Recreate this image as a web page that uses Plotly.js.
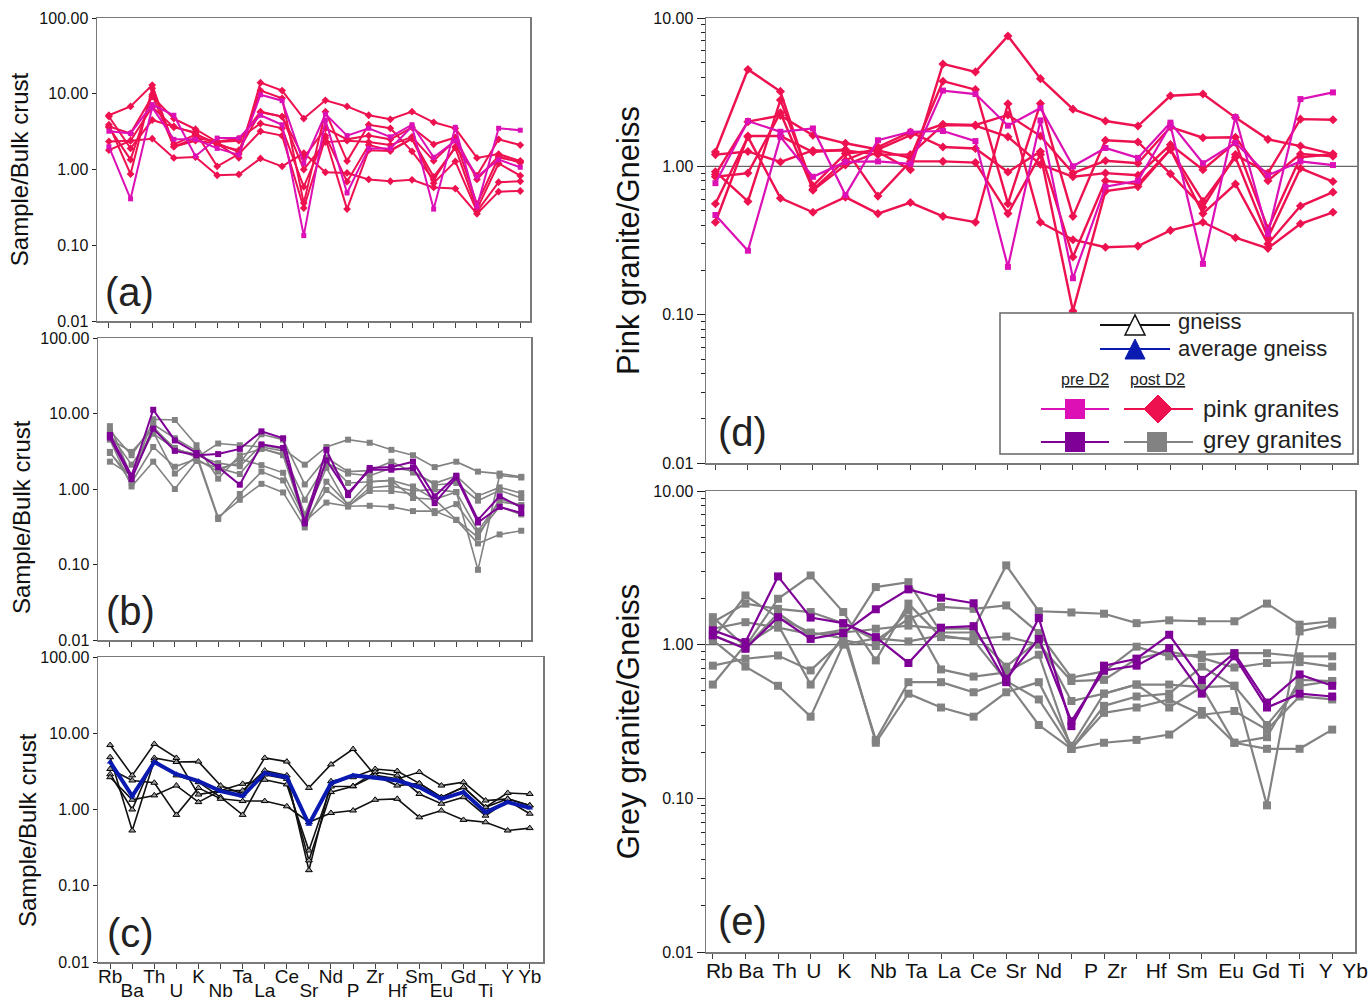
<!DOCTYPE html>
<html><head><meta charset="utf-8">
<script src="https://cdn.plot.ly/plotly-3.0.1.min.js"></script>
<style>body{margin:0;background:#fff}#chart{width:1370px;height:1004px}</style>
</head><body><div id="chart"></div>
<script>
// ---------- categories / tick labels ----------
const elements = ["Rb","Ba","Th","U","K","Nb","Ta","La","Ce","Sr","Nd","P","Zr","Hf","Sm","Eu","Gd","Ti","Y","Yb"];
const cTopLabels = ["Rb","Th","K","Ta","Ce","Nd","Zr","Sm","Gd","Y","Yb"];
const cBottomLabels = ["Ba","U","Nb","La","Sr","P","Hf","Eu","Ti"];
const yTicks = [0.01, 0.1, 1, 10, 100];

// ---------- (a) pink granites / bulk crust ----------
const pinkPreA = [
  [3.2,3.0,7.2,5.2,1.5,2.6,2.6,5.2,3.9,0.134,4.5,0.49,1.9,1.9,3.7,0.30,3.6,0.32,3.5,3.3],
  [2.0,0.41,6.6,2.5,2.5,1.9,1.56,9.7,8.1,1.2,5.4,2.8,3.5,2.7,3.9,1.45,2.4,0.80,1.35,1.07]
];
const pinkPostA = [
  [5.2,6.8,13.0,2.0,2.4,2.2,1.43,14.0,11.0,4.7,8.2,6.8,5.2,4.6,5.8,4.2,3.5,1.42,1.6,1.3],
  [3.9,0.87,11.8,2.15,2.9,2.2,1.7,11.0,8.7,0.36,5.8,1.29,3.9,3.5,1.74,0.73,2.0,0.83,2.5,2.1],
  [3.7,3.0,9.2,4.7,3.4,2.3,2.4,5.8,5.0,1.42,3.5,2.5,2.8,2.5,3.6,2.15,2.65,0.74,1.5,1.23],
  [5.0,1.9,4.5,3.7,3.0,2.1,1.8,5.7,5.0,1.0,2.3,2.4,2.3,2.1,2.7,1.3,2.45,0.35,1.44,1.27],
  [3.6,1.35,9.7,2.0,2.6,2.35,2.55,4.05,3.5,0.59,2.8,0.69,2.1,1.8,2.55,0.8,1.94,0.30,1.2,0.83],
  [1.8,2.4,6.7,3.6,3.1,1.1,1.6,3.2,2.8,0.31,2.6,0.30,1.8,1.75,2.55,0.66,1.28,0.28,0.68,0.70],
  [2.35,2.4,2.55,1.42,1.46,0.84,0.86,1.4,1.1,1.65,0.92,0.9,0.74,0.7,0.73,0.58,0.56,0.26,0.51,0.52]
];

// ---------- (b) grey granites / bulk crust ----------
const greyPreB = [
  [5.2,1.5,11.2,4.4,3.0,1.95,1.14,3.9,3.5,0.37,3.3,0.83,1.9,1.95,2.3,0.8,1.5,0.39,0.8,0.57],
  [4.8,1.35,6.3,3.2,2.8,2.9,3.4,5.8,4.7,0.35,2.4,0.89,1.8,1.8,1.9,0.65,1.42,0.36,0.58,0.48]
];
const greyPostB = [
  [5.3,2.1,5.4,3.4,2.8,2.2,2.0,3.8,3.4,2.1,3.6,4.5,4.1,3.3,2.8,1.95,2.3,1.7,1.6,1.45],
  [5.9,2.8,7.2,4.7,3.2,1.86,2.2,5.3,4.5,1.15,2.6,1.7,1.75,2.3,1.65,1.19,1.49,0.81,1.05,0.88],
  [6.8,1.46,8.4,8.2,3.8,1.37,2.8,3.4,2.9,0.72,2.2,1.6,1.5,1.9,1.75,1.13,1.2,0.70,0.96,0.76],
  [4.6,3.1,6.3,3.5,2.6,4.0,3.8,3.6,3.2,0.46,2.35,1.2,1.25,1.3,0.76,0.73,0.39,0.23,0.74,0.61],
  [3.1,1.22,3.6,1.97,2.5,1.7,2.5,2.07,1.64,0.42,1.9,0.59,1.04,1.1,0.94,0.99,0.91,0.28,0.68,0.61],
  [4.5,1.08,2.3,1.0,2.35,1.9,1.58,3.45,2.8,0.37,0.97,0.59,0.94,0.94,0.86,0.48,0.63,0.26,0.58,0.46],
  [2.3,1.5,5.7,1.6,2.7,0.40,0.86,1.7,1.3,0.37,0.66,0.59,0.6,0.58,0.51,0.51,0.39,0.19,0.25,0.28],
  [3.0,1.43,6.7,3.3,2.9,0.42,0.72,1.17,0.9,0.31,1.25,0.62,1.25,1.3,1.08,0.73,0.91,0.085,1.5,1.42]
];

// ---------- (c) gneiss / bulk crust ----------
const gneissC = [
  [2.9,1.0,4.75,4.2,4.25,2.06,1.6,4.75,4.25,1.92,3.9,6.2,2.8,2.52,3.1,2.06,2.28,1.31,1.38,1.13],
  [7.0,2.8,7.25,4.75,1.57,1.77,1.77,3.24,2.8,0.16,2.35,2.65,3.4,3.2,2.2,1.45,1.96,1.07,1.65,1.6],
  [4.85,0.53,4.4,2.8,2.28,1.45,0.85,2.87,2.52,0.215,1.69,2.02,3.1,2.8,1.6,1.19,1.45,0.83,1.31,0.88],
  [3.4,2.4,2.24,0.85,1.92,1.38,1.29,1.29,1.1,0.68,0.9,0.97,1.34,1.38,0.79,0.97,0.73,0.68,0.53,0.57],
  [2.65,1.34,1.53,2.06,1.25,1.77,2.17,2.45,2.13,0.29,2.0,2.02,2.8,2.06,2.2,1.45,1.96,1.07,1.38,1.13]
];
const avgGneissC = [4.2,1.5,4.2,2.9,2.35,1.74,1.5,3.0,2.65,0.64,2.2,2.8,2.6,2.4,1.96,1.38,1.69,0.92,1.25,1.05];

// ---------- (d) pink granite / gneiss ----------
const pinkPreD = [
  [0.77,2.02,1.71,1.80,0.64,1.5,1.71,1.73,1.48,0.21,2.04,0.176,0.73,0.80,1.9,0.22,2.15,0.35,2.84,3.15],
  [0.47,0.27,1.58,0.85,1.07,1.08,1.04,3.24,3.07,1.88,2.47,1.0,1.33,1.14,1.97,1.05,1.44,0.87,1.08,1.02]
];
const pinkPostD = [
  [1.25,4.5,3.2,0.69,1.02,1.25,0.95,4.9,4.33,7.57,3.9,2.43,2.02,1.87,2.99,3.07,2.13,1.52,1.37,1.21],
  [0.92,0.58,2.8,0.74,1.22,1.28,1.14,3.75,3.29,0.56,2.65,0.46,1.5,1.46,0.89,0.53,1.2,0.9,2.08,2.06],
  [0.88,2.0,2.2,1.62,1.43,1.3,1.62,1.92,1.9,2.22,1.6,0.9,1.09,1.05,1.84,1.56,1.57,0.8,1.21,1.17],
  [1.2,1.26,1.07,1.28,1.28,1.2,1.2,1.9,1.88,1.58,1.03,0.85,0.9,0.87,1.4,0.95,1.45,0.38,1.15,1.21],
  [0.85,0.9,2.3,0.7,1.1,1.35,1.7,1.35,1.32,0.915,1.26,0.245,0.8,0.76,1.3,0.58,1.15,0.33,0.97,0.79],
  [0.42,1.6,1.6,1.25,1.3,0.63,1.08,1.08,1.06,0.48,1.2,0.106,0.68,0.73,1.3,0.48,0.76,0.30,0.54,0.67],
  [0.56,1.58,0.61,0.49,0.62,0.48,0.57,0.46,0.42,2.64,0.42,0.32,0.285,0.29,0.37,0.42,0.33,0.28,0.41,0.49]
];

// ---------- (e) grey granite / gneiss ----------
const greyPreE = [
  [1.24,1.04,2.78,1.50,1.38,1.12,0.76,1.29,1.32,0.57,1.49,0.295,0.73,0.81,1.16,0.59,0.88,0.42,0.64,0.54],
  [1.15,0.94,1.51,1.09,1.19,1.70,2.29,2.02,1.86,0.60,1.09,0.318,0.68,0.73,0.95,0.48,0.84,0.39,0.48,0.46]
];
const greyPostE = [
  [1.27,1.40,1.29,1.17,1.2,1.27,1.33,1.27,1.27,3.28,1.65,1.62,1.59,1.38,1.44,1.42,1.42,1.85,1.35,1.42],
  [1.40,1.85,1.71,1.63,1.38,1.07,1.47,1.76,1.71,1.80,1.19,0.61,0.67,0.97,0.84,0.86,0.88,0.88,0.84,0.84],
  [1.51,0.97,1.99,2.82,1.63,0.79,1.85,1.12,1.09,1.13,1.0,0.58,0.59,0.81,0.90,0.82,0.71,0.76,0.77,0.72],
  [1.09,2.09,1.50,1.2,1.1,2.37,2.55,1.2,1.2,0.72,1.07,0.43,0.48,0.55,0.39,0.53,0.23,0.25,0.59,0.58],
  [0.73,0.81,0.85,0.68,1.07,0.98,1.67,0.69,0.62,0.66,0.86,0.21,0.40,0.46,0.48,0.72,0.54,0.30,0.54,0.58],
  [1.07,0.72,0.54,0.34,1.0,1.1,1.05,1.15,1.07,0.58,0.44,0.21,0.36,0.39,0.44,0.35,0.37,0.28,0.46,0.44],
  [0.55,1.0,1.35,0.55,1.15,0.24,0.57,0.57,0.49,0.58,0.30,0.21,0.23,0.24,0.26,0.37,0.23,0.21,0.21,0.28],
  [1.15,0.95,1.6,1.15,1.25,0.23,0.48,0.39,0.34,0.49,0.57,0.22,0.48,0.55,0.55,0.53,0.54,0.09,1.22,1.35]
];

// ---------- styling (not data) ----------
const eLabelPos = [0.2,1.17,2.2,3.1,4.03,5.23,6.24,7.25,8.3,9.3,10.3,11.6,12.4,13.6,14.7,15.9,16.97,17.9,18.8,19.7];
const C = {pinkPre:'#DC10B4', pinkPost:'#EE1150', greyPre:'#7E0096', greyPost:'#828282', gneiss:'#111111', avg:'#0A1AB0'};
const FONT = '"Liberation Sans", Arial, sans-serif';
const NARROW = '"Liberation Sans Narrow", "Liberation Sans", Arial, sans-serif';

function tr(ys, xa, ya, color, symbol, msize, lw, mline) {
  return {x: elements, y: ys, xaxis: xa, yaxis: ya, type: 'scatter', mode: 'lines+markers',
    line: {color: color, width: lw}, cliponaxis: false,
    marker: {symbol: symbol, size: msize, color: mline ? '#9a9a9a' : color, line: {width: mline ? 1 : 0, color: '#000'}},
    showlegend: false, hoverinfo: 'skip'};
}
const data = [];
pinkPostA.forEach(s => data.push(tr(s, 'x', 'y', C.pinkPost, 'diamond', 6, 2)));
pinkPreA.forEach(s => data.push(tr(s, 'x', 'y', C.pinkPre, 'square', 5, 2)));
greyPostB.forEach(s => data.push(tr(s, 'x2', 'y2', C.greyPost, 'square', 6, 1.6)));
greyPreB.forEach(s => data.push(tr(s, 'x2', 'y2', C.greyPre, 'square', 6, 2)));
gneissC.forEach(s => data.push(tr(s, 'x3', 'y3', C.gneiss, 'triangle-up', 6, 1.6, true)));
data.push(tr(avgGneissC, 'x3', 'y3', C.avg, 'triangle-up', 6, 4));
pinkPostD.forEach(s => data.push(tr(s, 'x4', 'y4', C.pinkPost, 'diamond', 7, 2.4)));
pinkPreD.forEach(s => data.push(tr(s, 'x4', 'y4', C.pinkPre, 'square', 6, 2.2)));
greyPostE.forEach(s => data.push(tr(s, 'x5', 'y5', C.greyPost, 'square', 8, 2.2)));
greyPreE.forEach(s => data.push(tr(s, 'x5', 'y5', C.greyPre, 'square', 8, 2.2)));
// empty carriers so that the label-only overlay axes get drawn
data.push({x: [], y: [], xaxis: 'x6', yaxis: 'y3', type: 'scatter', mode: 'markers', showlegend: false, hoverinfo: 'skip'});
data.push({x: [], y: [], xaxis: 'x7', yaxis: 'y5', type: 'scatter', mode: 'markers', showlegend: false, hoverinfo: 'skip'});

const W = 1370, H = 1004;
const px = v => v / W, py = v => 1 - v / H;
const boxCol = '#7a7a7a';

function xax(dom, anchor, range, extra) {
  return Object.assign({domain: dom, anchor: anchor, type: 'category', range: range,
    showline: true, mirror: true, linecolor: boxCol, linewidth: 1.5,
    ticks: 'outside', ticklen: 5, tickcolor: '#444', tickwidth: 1,
    showticklabels: false, showgrid: false, zeroline: false, fixedrange: true}, extra || {});
}
function yax(dom, anchor, range, title, tsize, tickfont, extra) {
  return Object.assign({domain: dom, anchor: anchor, type: 'log', range: range,
    tickvals: yTicks, tickformat: '.2f', ticks: 'outside', ticklen: 4, tickcolor: '#222',
    showline: true, mirror: true, linecolor: boxCol, linewidth: 1.5,
    showgrid: false, zeroline: false, fixedrange: true,
    tickfont: tickfont, ticklabelstandoff: 0,
    title: {text: title, font: {family: FONT, size: tsize, color: '#111'}, standoff: 4}}, extra || {});
}
const tfABC = {family: FONT, size: 16, color: '#111'};
const tfDE = {family: NARROW, size: 16, color: '#111'};

const layout = {
  width: W, height: H, margin: {l: 0, r: 0, t: 0, b: 0},
  paper_bgcolor: '#fff', plot_bgcolor: '#fff', showlegend: false,
  font: {family: FONT, color: '#111'},
  xaxis: xax([px(97), px(530)], 'y', [-0.55, 19.45]),
  yaxis: yax([py(321), py(18)], 'x', [-2, 2], 'Sample/Bulk crust', 24, tfABC),
  xaxis2: xax([px(98), px(531)], 'y2', [-0.55, 19.45]),
  yaxis2: yax([py(640), py(338)], 'x2', [-2, 2], '', 24, tfABC),
  xaxis3: xax([px(98), px(543)], 'y3', [-0.55, 19.6], {
    showticklabels: true, tickvals: elements,
    ticktext: elements.map(e => cTopLabels.includes(e) ? e : ''),
    tickfont: {family: FONT, size: 19, color: '#111'}, ticklabelstandoff: -8}),
  xaxis6: {overlaying: 'x3', anchor: 'y3', side: 'bottom', type: 'linear', range: [-0.55, 19.6],
    tickmode: 'array', tickvals: cBottomLabels.map(e => elements.indexOf(e)), ticktext: cBottomLabels,
    ticks: '', showline: false, showgrid: false, zeroline: false, showticklabels: true,
    tickfont: {family: FONT, size: 19, color: '#111'}, ticklabelstandoff: 15, fixedrange: true},
  yaxis3: yax([py(962), py(657)], 'x3', [-2, 2], '', 24, tfABC),
  xaxis4: xax([px(706), px(1357)], 'y4', [-0.29, 19.74]),
  yaxis4: yax([py(463), py(18)], 'x4', [-2, 1], 'Pink granite/Gneiss', 31, tfDE,
    {minor: {ticks: 'outside', ticklen: 4, dtick: 'D1', tickcolor: '#222', showgrid: false}, ticklen: 8}),
  xaxis5: xax([px(706), px(1355)], 'y5', [-0.21, 19.7]),
  xaxis7: {overlaying: 'x5', anchor: 'y5', side: 'bottom', type: 'linear', range: [-0.21, 19.7],
    tickmode: 'array', tickvals: eLabelPos, ticktext: elements, ticks: '', showline: false, showgrid: false,
    zeroline: false, showticklabels: true,
    tickfont: {family: NARROW, size: 21, color: '#111'}, ticklabelstandoff: 4, fixedrange: true},
  yaxis5: yax([py(952), py(491)], 'x5', [-2, 1], 'Grey granite/Gneiss', 31, tfDE,
    {minor: {ticks: 'outside', ticklen: 4, dtick: 'D1', tickcolor: '#222', showgrid: false}, ticklen: 8}),
  shapes: [],
  annotations: []
};

// y titles of (b) and (c), placed like the reference (slightly below the panel centre)
[['Sample/Bulk crust', 21, 517], ['Sample/Bulk crust', 27, 830]].forEach(t => {
  layout.annotations.push({text: t[0], textangle: -90, xref: 'paper', yref: 'paper', x: px(t[1]), y: py(t[2]),
    xanchor: 'center', yanchor: 'middle', showarrow: false, font: {family: FONT, size: 24, color: '#111'}});
});

// reference line at 1 in (d) and (e)
['4', '5'].forEach(n => layout.shapes.push({type: 'line', xref: 'x' + n + ' domain', x0: 0, x1: 1,
  yref: 'y' + n, y0: 1, y1: 1, line: {color: '#666', width: 1.2}, layer: 'below'}));

// panel letters
[['(a)', 'x', 'y'], ['(b)', 'x2', 'y2'], ['(c)', 'x3', 'y3'], ['(d)', 'x4', 'y4'], ['(e)', 'x5', 'y5']].forEach(p => {
  layout.annotations.push({text: p[0], xref: p[1] + ' domain', yref: p[2] + ' domain', x: 0.015, y: 0.015,
    xanchor: 'left', yanchor: 'bottom', showarrow: false, font: {family: FONT, size: 40, color: '#222'}});
});

// legend (drawn inside panel d)
const S = layout.shapes, A = layout.annotations;
S.push({type: 'rect', xref: 'paper', yref: 'paper', x0: px(1000), x1: px(1353), y0: py(454), y1: py(313),
  line: {color: '#666', width: 1.5}, fillcolor: '#fff'});
function lseg(x0, x1, y, col, w) { S.push({type: 'line', xref: 'paper', yref: 'paper', x0: px(x0), x1: px(x1), y0: py(y), y1: py(y), line: {color: col, width: w}}); }
function lsq(cx, cy, hs, col) { S.push({type: 'rect', xref: 'paper', yref: 'paper', x0: px(cx - hs), x1: px(cx + hs), y0: py(cy + hs), y1: py(cy - hs), line: {width: 0}, fillcolor: col}); }
function lpath(pts, fill, lc, lw) {
  S.push({type: 'path', xref: 'paper', yref: 'paper', path: 'M' + pts.map(p => px(p[0]) + ',' + py(p[1])).join(' L') + ' Z',
    fillcolor: fill, line: {color: lc, width: lw}});
}
function ltext(t, x, y, size, anchor) {
  A.push({text: t, xref: 'paper', yref: 'paper', x: px(x), y: py(y), xanchor: anchor || 'left', yanchor: 'middle',
    showarrow: false, font: {family: FONT, size: size, color: '#222'}});
}
lseg(1100, 1170, 325, '#111', 2);
lpath([[1125, 335], [1135, 315], [1145, 335]], '#fff', '#111', 1.5);
ltext('gneiss', 1176, 322, 22);
lseg(1100, 1170, 349, C.avg, 2);
lpath([[1125, 359], [1135, 339], [1145, 359]], C.avg, C.avg, 1);
ltext('average gneiss', 1176, 348, 22);
ltext('<u>pre D2</u>', 1085, 379, 16, 'center');
ltext('<u>post D2</u>', 1157, 379, 16, 'center');
lseg(1041, 1109, 409, C.pinkPre, 2);
lsq(1075, 409, 10, C.pinkPre);
lseg(1124, 1193, 409, C.pinkPost, 2);
lpath([[1144, 409], [1158, 395], [1172, 409], [1158, 423]], C.pinkPost, C.pinkPost, 1);
ltext('pink granites', 1201, 408, 24);
lseg(1041, 1109, 442, C.greyPre, 2);
lsq(1075, 442, 10, C.greyPre);
lseg(1124, 1193, 442, C.greyPost, 2);
lsq(1157, 442, 10, C.greyPost);
ltext('grey granites', 1201, 439, 24);

Plotly.newPlot('chart', data, layout, {staticPlot: true, displayModeBar: false});
</script>
</body></html>
